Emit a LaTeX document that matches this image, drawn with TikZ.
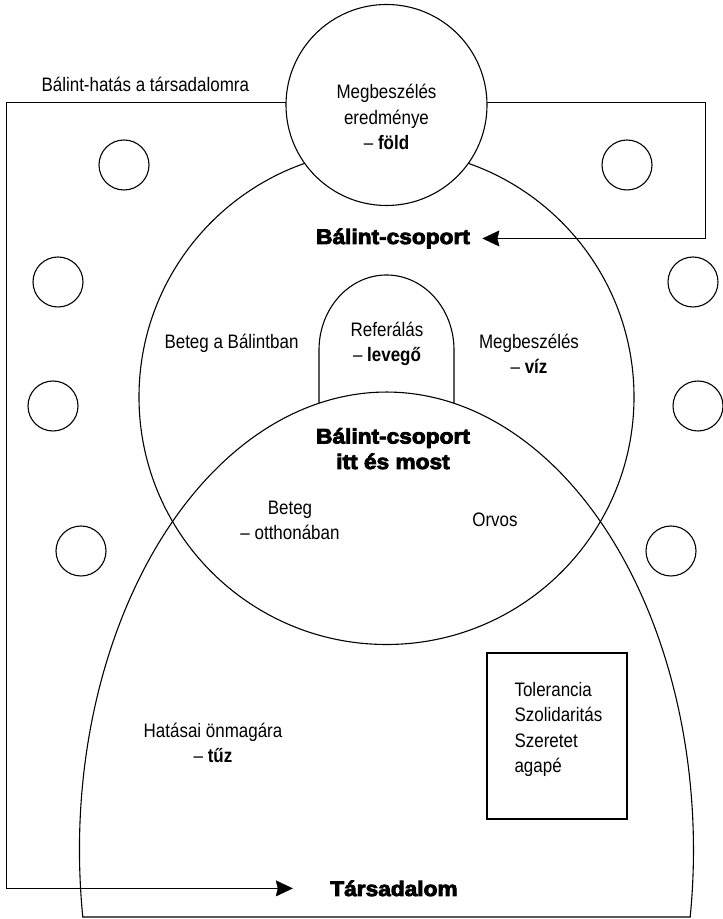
\documentclass[tikz,border=0pt]{standalone}
\usepackage{fontspec}
\setmainfont{Liberation Sans}[FakeStretch=0.87]
\newfontfamily\heavyfont{Liberation Sans Bold}[FakeBold=4,FakeStretch=1.08]
\usetikzlibrary{arrows.meta,backgrounds}

\begin{document}
\fontsize{19.5bp}{25.5bp}\selectfont
\begin{tikzpicture}[x=1bp,y=1bp,line width=1.1bp,
  txt/.style={align=center,inner sep=0pt,anchor=base},
  heavy/.style={txt,font=\heavyfont\fontsize{21bp}{25.5bp}\selectfont},
  ring/.style={draw,circle,inner sep=0pt,minimum size=50bp},
  arr/.style={-{Stealth[length=17bp,width=16bp,inset=2bp]}}]
\useasboundingbox (0,0) rectangle (723,919);
% the group and society
\node[draw,circle,inner sep=0pt,minimum size=495bp] (group) at (386.5,522) {};
\draw (82.8,2) arc[start angle=188.41,end angle=-8.41,x radius=307,y radius=458] -- cycle;
\draw (319,516) -- (319,569) arc[start angle=180,end angle=0,x radius=67.5,y radius=75] -- (454,516);
\node[draw,circle,fill=white,inner sep=0pt,minimum size=201bp] (earth) at (386.5,814) {};
% texts (base = last line)
\node[txt,anchor=base west] (title) at (41,827) {Bálint-hatás a társadalomra};
\node[txt] (earthtxt) at (386.5,769) {Megbeszélés\\eredménye\\– \textbf{föld}};
\node[heavy] (grp) at (393,675) {Bálint-csoport};
\node[txt] (inbal) at (231.5,570) {Beteg a Bálintban};
\node[txt] (refer) at (387,557) {Referálás\\– \textbf{levegő}};
\node[txt] (talk) at (529,545) {Megbeszélés\\– \textbf{víz}};
\node[heavy] (now) at (393,450) {Bálint-csoport\\itt és most};
\node[txt] (home) at (290,379) {Beteg\\– otthonában};
\node[txt] (doctor) at (495,392) {Orvos};
\node[txt] (self) at (213,156) {Hatásai önmagára\\– \textbf{tűz}};
\node[draw,inner sep=0pt,minimum width=140bp,minimum height=166bp] (valbox) at (557,183) {};
\node[txt,align=left,anchor=base west] (vals) at (514,146) {Tolerancia\\Szolidaritás\\Szeretet\\agapé};
\node[heavy] (soc) at (394,23) {Társadalom};
% small circles round the table
\foreach \x/\y [count=\i] in {124/754,627/754,58/637,693/637,53/513,698/513,81/368,671/368}
  \node[ring] (ring\i) at (\x,\y) {};
% frame with the two arrows
\begin{scope}[on background layer]
\coordinate (tl) at (6,817);
\coordinate (tr) at (705,817);
\draw (tl) -- (tr);
\draw[arr] (tr) |- ([xshift=12bp]grp.east);
\draw[arr] (tl) |- ([xshift=-37bp]soc.west);
\end{scope}
\end{tikzpicture}
\end{document}
